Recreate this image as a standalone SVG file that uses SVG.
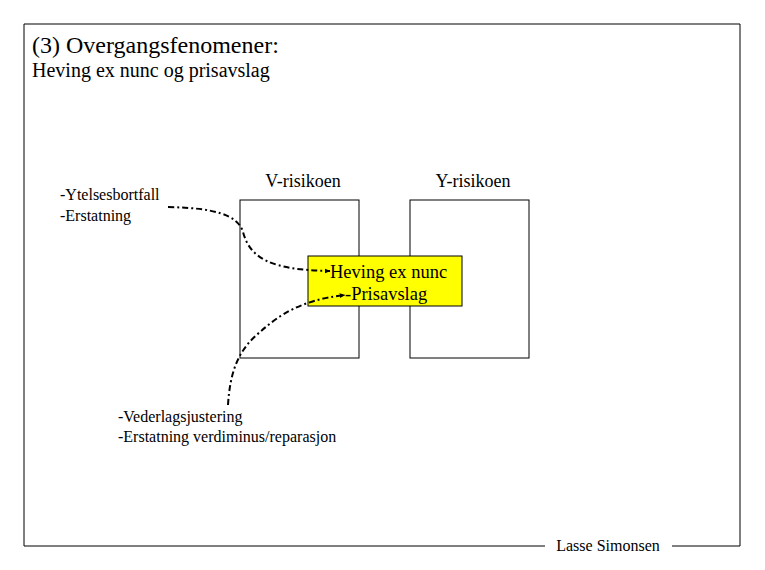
<svg xmlns="http://www.w3.org/2000/svg" width="765" height="570" viewBox="0 0 765 570">
<style>
text{font-family:"Liberation Serif","Times New Roman",serif;fill:#000}
.box{fill:#fff;stroke:#000;stroke-width:1}
.con{fill:none;stroke:#000;stroke-width:2;stroke-dasharray:6 3 2 3}
</style>
<defs>
<marker id="ah" viewBox="0 0 10 10" refX="9" refY="5" markerWidth="6" markerHeight="6" orient="auto" markerUnits="userSpaceOnUse">
<path d="M0,1 L10,5 L0,9 Z" fill="#000"/>
</marker>
</defs>
<rect width="765" height="570" fill="#fff"/>
<g id="frame">
<path d="M545,546 L24,546 L24,24 L740,24 L740,546 L672,546" fill="none" stroke="#000" stroke-width="1"/>
<text x="608" y="551" font-size="16" text-anchor="middle">Lasse Simonsen</text>
</g>
<g id="title">
<text x="32" y="53" font-size="24">(3) Overgangsfenomener:</text>
<text x="32" y="77" font-size="20">Heving ex nunc og prisavslag</text>
</g>
<g id="v-risikoen">
<rect class="box" x="240" y="200" width="119" height="158"/>
<text x="303" y="187" font-size="18" text-anchor="middle">V-risikoen</text>
</g>
<g id="y-risikoen">
<rect class="box" x="410" y="200" width="119" height="158"/>
<text x="473" y="187" font-size="18" text-anchor="middle">Y-risikoen</text>
</g>
<g id="heving">
<rect x="308" y="256" width="154" height="50" fill="#ffff00" stroke="#000" stroke-width="1"/>
<text x="330" y="278" font-size="18.5">Heving ex nunc</text>
<text x="345" y="300" font-size="18.5">-Prisavslag</text>
</g>
<g id="ytelse">
<text x="60" y="200" font-size="16">-Ytelsesbortfall</text>
<text x="60" y="221" font-size="16">-Erstatning</text>
</g>
<g id="vederlag">
<text x="118" y="422" font-size="16">-Vederlagsjustering</text>
<text x="118" y="442" font-size="16">-Erstatning verdiminus/reparasjon</text>
</g>
<g id="connectors">
<path class="con" d="M168,207 C215,208 238,215 243,232 C250,258 270,270 330,271" marker-end="url(#ah)"/>
<path class="con" d="M228,405 C230,372 238,350 260,332 C278,316 300,300 345,295" marker-end="url(#ah)"/>
</g>
</svg>
